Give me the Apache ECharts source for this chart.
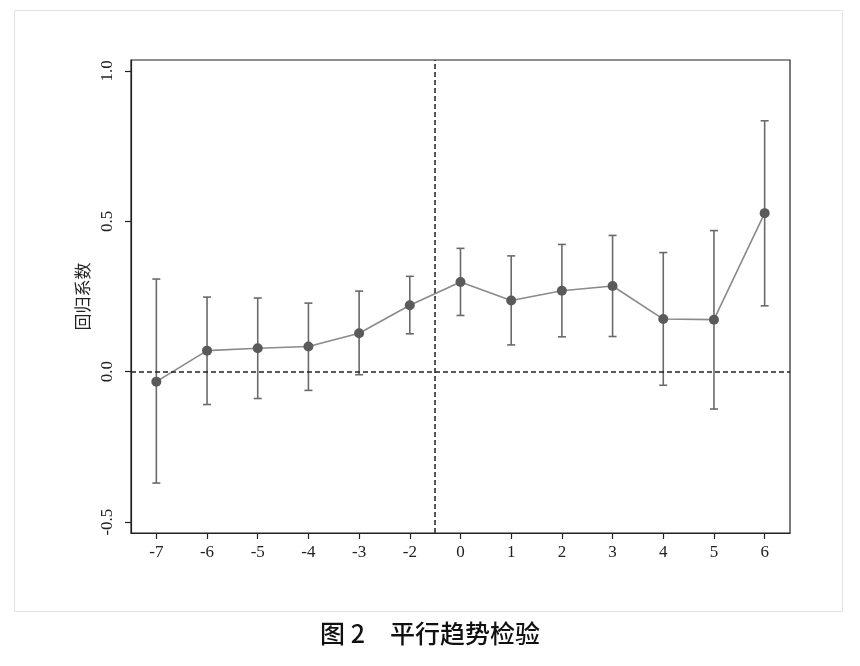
<!DOCTYPE html>
<html>
<head>
<meta charset="utf-8">
<script src="https://cdn.jsdelivr.net/npm/echarts@6/dist/echarts.min.js"></script>
<style>
html,body{margin:0;padding:0;background:#fff;}
#chart{width:860px;height:666px;}
</style>
</head>
<body>
<div id="chart"></div>
<script>
const categories = ['-7','-6','-5','-4','-3','-2','0','1','2','3','4','5','6'];
const coefficients = [-0.033, 0.070, 0.078, 0.084, 0.128, 0.221, 0.298, 0.237, 0.269, 0.285, 0.175, 0.173, 0.527];
const lowerCI = [-0.370, -0.109, -0.089, -0.062, -0.010, 0.126, 0.187, 0.089, 0.116, 0.117, -0.045, -0.124, 0.219];
const upperCI = [0.308, 0.248, 0.245, 0.228, 0.268, 0.317, 0.410, 0.385, 0.423, 0.453, 0.396, 0.469, 0.834];
const yTicks = [-0.5, 0.0, 0.5, 1.0];
const yMin = -0.536, yMax = 1.036;
const policyLine = 5.5; // between -2 and 0

const errData = categories.map((c, i) => [i, lowerCI[i], upperCI[i]]);

const chart = echarts.init(document.getElementById('chart'));
chart.setOption({
  backgroundColor: '#fff',
  animation: false,
  graphic: [
    { type: 'rect', shape: { x: 14.5, y: 10.5, width: 828, height: 601 },
      style: { fill: 'none', stroke: '#e2e2e2', lineWidth: 1 }, z: -10 },
    { type: 'text', left: 'center', top: 621,
      style: { text: '图 2　平行趋势检验', font: '500 25px "Noto Sans CJK SC"', fill: '#111' } }
  ],
  grid: { left: 131, top: 60, right: 70, bottom: 133, show: true, borderColor: '#222', borderWidth: 1.2, backgroundColor: 'transparent' },
  xAxis: [
    { type: 'category', data: categories, boundaryGap: true,
      axisLine: { onZero: false, lineStyle: { color: '#222', width: 1.2 } },
      axisTick: { show: true, alignWithLabel: true, length: 6, lineStyle: { color: '#222', width: 1.2 } },
      axisLabel: { fontFamily: 'Liberation Serif', fontSize: 17, color: '#222', margin: 11 },
      splitLine: { show: false } },
    { type: 'value', min: -0.5, max: 12.5, show: false }
  ],
  yAxis: {
    type: 'value', min: yMin, max: yMax,
    name: '回归系数', nameLocation: 'middle', nameRotate: 90, nameGap: 38,
    nameTextStyle: { fontFamily: 'Noto Sans CJK SC', fontSize: 17, color: '#222' },
    axisLine: { show: true, onZero: false, lineStyle: { color: '#222', width: 1.2 } },
    axisTick: { show: true, length: 6, customValues: yTicks, lineStyle: { color: '#222', width: 1.2 } },
    axisLabel: { customValues: yTicks, rotate: 90, fontFamily: 'Liberation Serif', fontSize: 17, color: '#222', margin: 15,
      formatter: v => v.toFixed(1) },
    splitLine: { show: false }
  },
  series: [
    {
      type: 'custom', name: 'ci', data: errData, z: 2,
      renderItem: function (params, api) {
        const x = api.value(0);
        const lo = api.coord([x, api.value(1)]);
        const hi = api.coord([x, api.value(2)]);
        const w = 4;
        const st = { stroke: '#6a6a6a', lineWidth: 1.6 };
        return { type: 'group', children: [
          { type: 'line', shape: { x1: lo[0], y1: lo[1], x2: hi[0], y2: hi[1] }, style: st },
          { type: 'line', shape: { x1: lo[0] - w, y1: lo[1], x2: lo[0] + w, y2: lo[1] }, style: st },
          { type: 'line', shape: { x1: hi[0] - w, y1: hi[1], x2: hi[0] + w, y2: hi[1] }, style: st }
        ]};
      }
    },
    {
      type: 'line', name: 'coef', data: coefficients, z: 3,
      symbol: 'circle', symbolSize: 10,
      lineStyle: { color: '#8a8a8a', width: 1.6 },
      itemStyle: { color: '#5a5a5a' },
      markLine: {
        silent: true, symbol: 'none', label: { show: false },
        lineStyle: { color: '#222', type: [5, 3], width: 1.5 },
        data: [{ yAxis: 0 }]
      }
    },
    {
      type: 'line', xAxisIndex: 1, data: [], z: 1,
      markLine: {
        silent: true, symbol: 'none', label: { show: false },
        lineStyle: { color: '#222', type: [5, 3], width: 1.5 },
        data: [{ xAxis: policyLine }]
      }
    }
  ]
});
</script>
</body>
</html>
